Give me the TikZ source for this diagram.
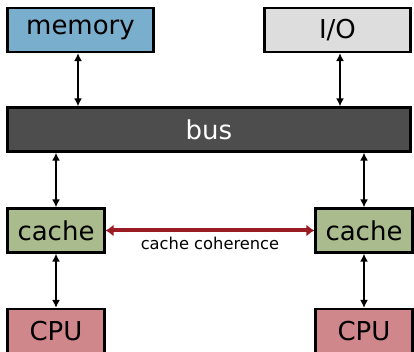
\documentclass[tikz,border=0pt]{standalone}
\usepackage{fontspec}
\setmainfont{DejaVu Sans}
\usetikzlibrary{arrows.meta}
\definecolor{memc}{RGB}{122,174,205}
\definecolor{ioc}{RGB}{221,221,221}
\definecolor{busc}{RGB}{77,77,77}
\definecolor{cachec}{RGB}{170,187,141}
\definecolor{cpuc}{RGB}{208,135,139}
\definecolor{cohc}{RGB}{155,27,34}
\tikzset{
  box/.style={draw=black, line width=2.2pt, minimum height=44pt, inner sep=0pt,
    font=\fontsize{26}{31}\selectfont, text=black},
  link/.style={black, line width=2pt, {Latex[length=8pt,width=8pt]}-{Latex[length=8pt,width=8pt]}},
  coh/.style={cohc, line width=4pt, {Latex[length=8pt,width=12pt]}-{Latex[length=8pt,width=12pt]}},
}
\begin{document}
\begin{tikzpicture}[x=1pt,y=-1pt]
\useasboundingbox (0,0) rectangle (414,352);
\node[box, fill=memc, minimum width=146pt] (mem) at (80.5,30) {memory};
\node[box, fill=ioc, minimum width=146pt] (io) at (337.5,30) {I/O};
\node[box, fill=busc, minimum width=403pt, text=white] (bus) at (209,129.5) {bus};
\node[box, fill=cachec, minimum width=97pt] (cl) at (56,230.5) {cache};
\node[box, fill=cachec, minimum width=97pt] (cr) at (364,230.5) {cache};
\node[box, fill=cpuc, minimum width=97pt] (pl) at (56,331) {CPU};
\node[box, fill=cpuc, minimum width=97pt] (pr) at (364,331) {CPU};
\draw[link] ([xshift=-2.5pt]mem.south) -- ([xshift=-2.5pt]mem.south |- bus.north);
\draw[link] ([xshift=2.5pt]io.south) -- ([xshift=2.5pt]io.south |- bus.north);
\draw[link] (cl.north |- bus.south) -- (cl.north);
\draw[link] (cr.north |- bus.south) -- (cr.north);
\draw[link] (cl.south) -- (pl.north);
\draw[link] (cr.south) -- (pr.north);
\draw[coh] (cl.east) -- node[below=1pt, font=\fontsize{16.3}{19}\selectfont, text=black] (cohl) {cache coherence} (cr.west);
\end{tikzpicture}
\end{document}
